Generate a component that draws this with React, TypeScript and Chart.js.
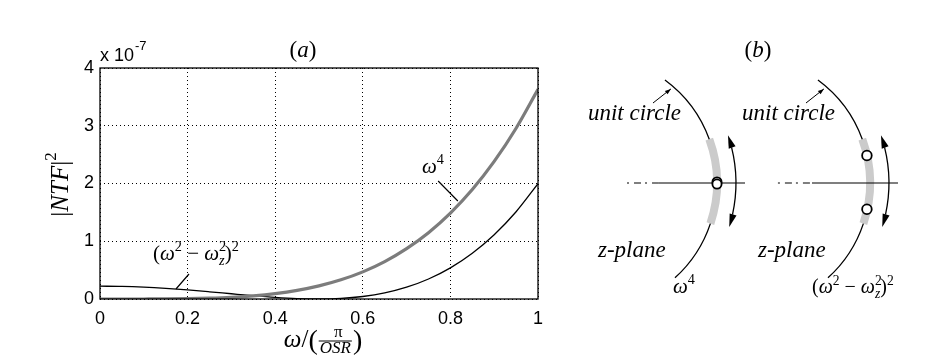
import React, { useEffect, useRef } from 'react';
import { Chart, registerables } from 'chart.js';

Chart.register(...registerables);

// ---------- Panel (a) data (|NTF|^2 in units of 1e-7) ----------
const omegaNorm = [0, 0.05, 0.1, 0.15, 0.2, 0.25, 0.3, 0.35, 0.4, 0.45, 0.5, 0.55, 0.6, 0.65, 0.7, 0.75, 0.8, 0.85, 0.9, 0.95, 1];
const ntfOmega4 = [0, 0.0, 0.0004, 0.0018, 0.0058, 0.0142, 0.0294, 0.0545, 0.093, 0.149, 0.227, 0.332, 0.47, 0.648, 0.872, 1.148, 1.487, 1.895, 2.382, 2.957, 3.63];
const ntfResonator = [0.222, 0.2175, 0.2045, 0.1837, 0.1566, 0.1248, 0.0909, 0.0577, 0.0288, 0.008, 0, 0.0098, 0.043, 0.1056, 0.2045, 0.3467, 0.54, 0.7926, 1.113, 1.511, 1.997];
const xTickValues = [0, 0.2, 0.4, 0.6, 0.8, 1];
const xTickLabels = ['0', '0.2', '0.4', '0.6', '0.8', '1'];
const yTickValues = [0, 1, 2, 3, 4];
const yTickLabels = ['0', '1', '2', '3', '4'];
const yExponent = '-7';

// ---------- Panel (b) z-plane data ----------
const circleCenters = [0, 1.1953];
const leftZeros = [{ x: 1, y: 0.008 }, { x: 1, y: -0.008 }];
const rightZeros = [{ x: 2.1713, y: 0.215 }, { x: 2.1713, y: -0.205 }];
const leftAxisDashed = [{ x: 0.297, y: 0 }, { x: 0.54, y: 0 }];
const leftAxisSolid = [{ x: 0.54, y: 0 }, { x: 1.219, y: 0 }];
const rightAxisDashed = [{ x: 1.476, y: 0 }, { x: 1.742, y: 0 }];
const rightAxisSolid = [{ x: 1.742, y: 0 }, { x: 2.414, y: 0 }];

const SERIF = '"Liberation Serif", "Times New Roman", serif';
const SANS = '"Liberation Sans", Arial, Helvetica, sans-serif';
const sf = (size: number, italic = false) => `${italic ? 'italic ' : ''}${size}px ${SERIF}`;

type Seg = { t: string; f: string; dy?: number; adv?: boolean };

function richWidth(ctx: CanvasRenderingContext2D, segs: Seg[]) {
  let w = 0;
  for (const s of segs) {
    ctx.font = s.f;
    if (s.adv !== false) w += ctx.measureText(s.t).width;
  }
  return w;
}

function drawRich(ctx: CanvasRenderingContext2D, segs: Seg[], x: number, y: number, align: 'left' | 'center' = 'left') {
  const w = richWidth(ctx, segs);
  let cx = align === 'center' ? x - w / 2 : x;
  ctx.textAlign = 'left';
  ctx.textBaseline = 'alphabetic';
  for (const s of segs) {
    ctx.font = s.f;
    ctx.fillText(s.t, cx, y + (s.dy || 0));
    if (s.adv !== false) cx += ctx.measureText(s.t).width;
  }
}

const resonatorLabel = (size: number): Seg[] => [
  { t: '(', f: sf(size) },
  { t: 'ω', f: sf(size, true) },
  { t: '2', f: sf(size * 0.68), dy: -size * 0.42 },
  { t: ' − ', f: sf(size) },
  { t: 'ω', f: sf(size, true) },
  { t: '2', f: sf(size * 0.68), dy: -size * 0.42, adv: false },
  { t: 'z', f: sf(size * 0.68, true), dy: size * 0.25 },
  { t: ')', f: sf(size) },
  { t: '2', f: sf(size * 0.68), dy: -size * 0.42 },
];

const omega4Label = (size: number): Seg[] => [
  { t: 'ω', f: sf(size, true) },
  { t: '4', f: sf(size * 0.68), dy: -size * 0.45 },
];

const panelAPlugin = {
  id: 'panelA',
  afterDatasetsDraw(chart: any) {
    const { ctx, chartArea: a, scales } = chart;
    const xs = scales.x;
    const ys = scales.y;
    const px = (v: number) => xs.getPixelForValue(v);
    const py = (v: number) => ys.getPixelForValue(v);
    ctx.save();
    // box
    ctx.strokeStyle = '#000';
    ctx.lineWidth = 1.3;
    ctx.setLineDash([]);
    ctx.strokeRect(a.left, a.top, a.right - a.left, a.bottom - a.top);

    // leaders
    ctx.lineWidth = 1.2;
    ctx.beginPath();
    ctx.moveTo(px(0.772), py(2.043));
    ctx.lineTo(px(0.817), py(1.697));
    ctx.moveTo(px(0.2032), py(0.433));
    ctx.lineTo(px(0.1735), py(0.173));
    ctx.stroke();

    ctx.fillStyle = '#000';
    drawRich(ctx, omega4Label(21), px(0.735), py(2.18));
    drawRich(ctx, resonatorLabel(21), px(0.121), py(0.675));

    // exponent
    ctx.font = `18px ${SANS}`;
    ctx.textAlign = 'left';
    ctx.fillText('x 10', a.left, a.top - 7);
    const w10 = ctx.measureText('x 10').width;
    ctx.font = `13px ${SANS}`;
    ctx.fillText(yExponent, a.left + w10 + 1, a.top - 18);

    // title (a)
    drawRich(ctx, [
      { t: '(', f: sf(23) },
      { t: 'a', f: sf(23, true) },
      { t: ')', f: sf(23) },
    ], (a.left + a.right) / 2 + (303 - 319), a.top - 11, 'center');

    // y label |NTF|^2
    ctx.save();
    ctx.translate(a.left - 32, (a.top + a.bottom) / 2 + 1);
    ctx.rotate(-Math.PI / 2);
    drawRich(ctx, [
      { t: '|', f: sf(25) },
      { t: 'NTF', f: sf(25, true) },
      { t: '|', f: sf(25) },
      { t: '2', f: sf(17), dy: -12 },
    ], 0, 0, 'center');
    ctx.restore();

    // x label ω/(π/OSR)
    const cx = (a.left + a.right) / 2 + 4;
    const base = a.bottom + 48;
    const pre: Seg[] = [
      { t: 'ω', f: sf(25, true) },
      { t: '/', f: sf(25) },
      { t: '(', f: sf(28), dy: 2 },
    ];
    const wPre = richWidth(ctx, pre);
    ctx.font = sf(17, true);
    const wOSR = ctx.measureText('OSR').width;
    const fracW = wOSR + 4;
    ctx.font = sf(28);
    const wClose = ctx.measureText(')').width;
    const total = wPre + fracW + wClose;
    const x0 = cx - total / 2;
    drawRich(ctx, pre, x0, base);
    const fx = x0 + wPre;
    ctx.font = sf(17);
    ctx.textAlign = 'center';
    ctx.fillText('π', fx + fracW / 2 + 3, base - 10);
    ctx.font = sf(17, true);
    ctx.fillText('OSR', fx + fracW / 2, base + 6);
    ctx.lineWidth = 1;
    ctx.beginPath();
    ctx.moveTo(fx + 1, base - 6);
    ctx.lineTo(fx + fracW - 1, base - 6);
    ctx.stroke();
    ctx.textAlign = 'left';
    ctx.font = sf(28);
    ctx.fillText(')', fx + fracW, base + 2);
    ctx.restore();
  },
};

function arrowHead(ctx: CanvasRenderingContext2D, tipX: number, tipY: number, dirX: number, dirY: number, len: number, half: number) {
  const n = Math.hypot(dirX, dirY);
  const ux = dirX / n;
  const uy = dirY / n;
  const bx = tipX - ux * len;
  const by = tipY - uy * len;
  ctx.beginPath();
  ctx.moveTo(tipX, tipY);
  ctx.lineTo(bx - uy * half, by + ux * half);
  ctx.lineTo(bx + uy * half, by - ux * half);
  ctx.closePath();
  ctx.fill();
}

const panelBPlugin = {
  id: 'panelB',
  beforeDatasetsDraw(chart: any) {
    const { ctx, scales } = chart;
    const xs = scales.x;
    const ys = scales.y;
    const r = xs.getPixelForValue(1) - xs.getPixelForValue(0);
    const cy = ys.getPixelForValue(0);
    const deg = Math.PI / 180;
    ctx.save();
    circleCenters.forEach((c) => {
      const cx = xs.getPixelForValue(c);
      // gray band
      ctx.strokeStyle = '#cbcbcb';
      ctx.lineWidth = 8;
      ctx.beginPath();
      ctx.arc(cx, cy, r, -20 * deg, 18.5 * deg);
      ctx.stroke();
      // unit circle arc
      ctx.strokeStyle = '#000';
      ctx.lineWidth = 1.3;
      ctx.beginPath();
      ctx.arc(cx, cy, r, -53.6 * deg, -20 * deg);
      ctx.stroke();
      ctx.beginPath();
      ctx.arc(cx, cy, r, 18.5 * deg, 47.8 * deg);
      ctx.stroke();
      // double arrow arc
      const ra = r * 1.148;
      const a1 = -19 * deg;
      const a2 = 17.4 * deg;
      ctx.beginPath();
      ctx.arc(cx, cy, ra, a1 + 5 * deg, a2 - 5 * deg);
      ctx.stroke();
      ctx.fillStyle = '#000';
      arrowHead(ctx, cx + ra * Math.cos(a1), cy + ra * Math.sin(a1), Math.sin(a1), -Math.cos(a1), 13, 3.6);
      arrowHead(ctx, cx + ra * Math.cos(a2), cy + ra * Math.sin(a2), -Math.sin(a2), Math.cos(a2), 13, 3.6);
      // unit circle leader arrow
      const sx = xs.getPixelForValue(c + 0.5);
      const sy = ys.getPixelForValue(0.625);
      const ex = xs.getPixelForValue(c + 0.64);
      const ey = ys.getPixelForValue(0.735);
      ctx.lineWidth = 1;
      ctx.beginPath();
      ctx.moveTo(sx, sy);
      ctx.lineTo(ex, ey);
      ctx.stroke();
      arrowHead(ctx, ex, ey, ex - sx, ey - sy, 6, 2.2);
    });
    ctx.restore();
  },
  afterDatasetsDraw(chart: any) {
    const { ctx, scales } = chart;
    const xs = scales.x;
    const ys = scales.y;
    const px = (v: number) => xs.getPixelForValue(v);
    const py = (v: number) => ys.getPixelForValue(v);
    ctx.save();
    ctx.fillStyle = '#000';
    ctx.textAlign = 'left';
    ctx.textBaseline = 'alphabetic';
    drawRich(ctx, [
      { t: '(', f: sf(23) },
      { t: 'b', f: sf(23, true) },
      { t: ')', f: sf(23) },
    ], px(1.32), py(0.984), 'center');
    ctx.font = sf(23, true);
    ctx.fillText('unit circle', px(-0.008), py(0.49));
    ctx.fillText('unit circle', px(circleCenters[1] + 0.0), py(0.49));
    ctx.fillText('z-plane', px(0.07), py(-0.578));
    ctx.fillText('z-plane', px(circleCenters[1] + 0.125), py(-0.578));
    drawRich(ctx, omega4Label(21), px(0.656), py(-0.86));
    drawRich(ctx, resonatorLabel(20), px(circleCenters[1] + 0.547), py(-0.86));
    ctx.restore();
  },
};

export default function App() {
  const refA = useRef<HTMLCanvasElement>(null);
  const refB = useRef<HTMLCanvasElement>(null);

  useEffect(() => {
    const tickFont = { family: SANS, size: 18 };
    const chartA = new Chart(refA.current as HTMLCanvasElement, {
      type: 'line',
      data: {
        datasets: [
          {
            label: 'omega4',
            data: omegaNorm.map((x, i) => ({ x, y: ntfOmega4[i] })),
            borderColor: '#7c7c7c',
            borderWidth: 3.2,
            pointRadius: 0,
            cubicInterpolationMode: 'monotone',
          },
          {
            label: 'resonator',
            data: omegaNorm.map((x, i) => ({ x, y: ntfResonator[i] })),
            borderColor: '#000000',
            borderWidth: 1.3,
            pointRadius: 0,
            cubicInterpolationMode: 'monotone',
          },
        ],
      },
      options: {
        animation: false,
        responsive: false,
        events: [],
        layout: { autoPadding: false, padding: { left: 0, top: 68, right: 32, bottom: 0 } },
        plugins: { legend: { display: false }, tooltip: { enabled: false }, title: { display: false } },
        scales: {
          x: {
            type: 'linear',
            min: 0,
            max: 1,
            afterBuildTicks: (s: any) => { s.ticks = xTickValues.map((v) => ({ value: v })); },
            afterFit: (s: any) => { s.height = 65; },
            ticks: {
              callback: (v: any) => xTickLabels[xTickValues.indexOf(Number(v))] ?? '',
              font: tickFont,
              color: '#000',
              padding: 9,
              maxRotation: 0,
              autoSkip: false,
            },
            grid: { color: '#000', lineWidth: 1, drawTicks: false },
            border: { display: false, dash: [1, 3] },
          },
          y: {
            type: 'linear',
            min: 0,
            max: 4,
            afterBuildTicks: (s: any) => { s.ticks = yTickValues.map((v) => ({ value: v })); },
            afterFit: (s: any) => { s.width = 100; },
            ticks: {
              callback: (v: any) => yTickLabels[yTickValues.indexOf(Number(v))] ?? '',
              font: tickFont,
              color: '#000',
              padding: 6,
              autoSkip: false,
            },
            grid: { color: '#000', lineWidth: 1, drawTicks: false },
            border: { display: false, dash: [1, 3] },
          },
        },
      },
      plugins: [panelAPlugin],
    } as any);

    const xMinB = -0.1484;
    const yMaxB = 1.4297;
    const chartB = new Chart(refB.current as HTMLCanvasElement, {
      type: 'scatter',
      data: {
        datasets: [
          { label: 'zerosL', data: leftZeros, pointRadius: 4.6, pointBackgroundColor: '#fff', pointBorderColor: '#000', pointBorderWidth: 1.8, showLine: false },
          { label: 'zerosR', data: rightZeros, pointRadius: 4.8, pointBackgroundColor: '#fff', pointBorderColor: '#000', pointBorderWidth: 1.8, showLine: false },
          { label: 'axL1', data: leftAxisDashed, showLine: true, borderColor: '#000', borderWidth: 1.1, borderDash: [2, 5, 7, 4], pointRadius: 0 },
          { label: 'axL2', data: leftAxisSolid, showLine: true, borderColor: '#000', borderWidth: 1.1, pointRadius: 0 },
          { label: 'axR1', data: rightAxisDashed, showLine: true, borderColor: '#000', borderWidth: 1.1, borderDash: [2, 5, 7, 4], pointRadius: 0 },
          { label: 'axR2', data: rightAxisSolid, showLine: true, borderColor: '#000', borderWidth: 1.1, pointRadius: 0 },
        ],
      },
      options: {
        animation: false,
        responsive: false,
        events: [],
        layout: { autoPadding: false, padding: 0 },
        plugins: { legend: { display: false }, tooltip: { enabled: false } },
        scales: {
          x: { type: 'linear', display: false, min: xMinB, max: xMinB + 357 / 128 },
          y: { type: 'linear', display: false, min: yMaxB - 364 / 128, max: yMaxB },
        },
      },
      plugins: [panelBPlugin],
    } as any);

    return () => {
      chartA.destroy();
      chartB.destroy();
    };
  }, []);

  return (
    <div style={{ position: 'absolute', left: 0, top: 0, width: 927, height: 364, background: '#fff' }}>
      <canvas ref={refA} width={570} height={364} style={{ position: 'absolute', left: 0, top: 0, width: 570, height: 364 }} />
      <canvas ref={refB} width={357} height={364} style={{ position: 'absolute', left: 570, top: 0, width: 357, height: 364 }} />
    </div>
  );
}
